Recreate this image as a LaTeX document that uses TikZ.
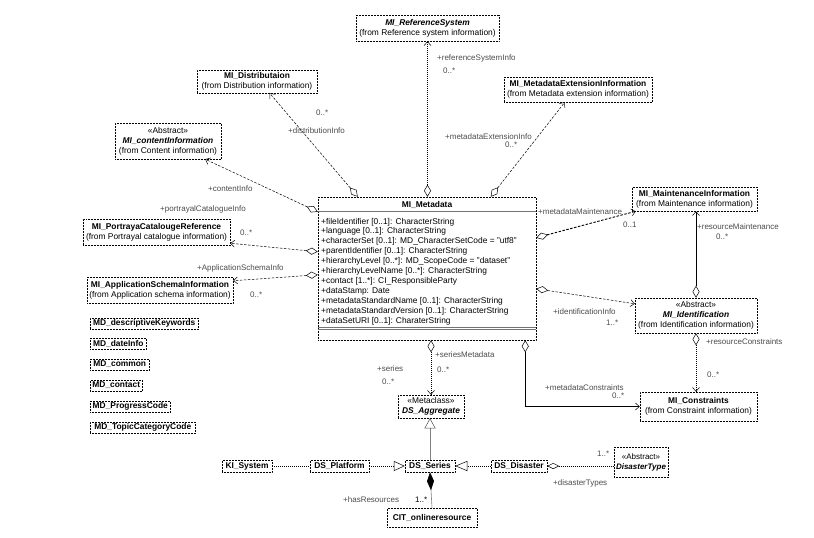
\documentclass[tikz,border=0pt]{standalone}
\usepackage{fontspec}
\setmainfont{Liberation Sans}
\usetikzlibrary{arrows.meta}
\tikzset{
  odia/.tip={Diamond[open,length=12pt,width=7pt,line width=0.5pt]},
  barb/.tip={Straight Barb[length=4pt,width=7pt,line width=0.5pt]},
}
\begin{document}
\begin{tikzpicture}[x=1pt,y=-1pt,
  box/.style={draw=black, densely dotted, line width=0.5pt, fill=white, inner sep=0pt, align=center, font=\fontsize{8.4}{10}\selectfont},
  lbl/.style={font=\fontsize{8}{9}\selectfont, text=black!70, inner sep=0pt, anchor=west},
  attr/.style={font=\fontsize{8.4}{10}\selectfont, inner sep=0pt, anchor=west},
  dotline/.style={line width=0.5pt, dash pattern=on 1pt off 1pt},
  dashline/.style={line width=0.5pt, dash pattern=on 2.5pt off 1.5pt},
  solidline/.style={line width=0.6pt},
]
\path[use as bounding box, fill=white] (0,0) rectangle (814,538);

% classes
\node[box, minimum width=143pt, minimum height=26pt] (ref) at (427.5,28) {\textbf{\textit{MI\_ReferenceSystem}}\\(from Reference system information)};
\node[box, minimum width=120pt, minimum height=23pt] (dist) at (257,81.5) {\textbf{MI\_Distributaion}\\(from Distribution information)};
\node[box, minimum width=148pt, minimum height=25pt] (ext) at (578,89.5) {\textbf{MI\_MetadataExtensionInformation}\\(from Metadata extension information)};
\node[box, minimum width=106pt, minimum height=36pt] (content) at (168,141) {«Abstract»\\\textbf{\textit{MI\_contentInformation}}\\(from Content information)};
\node[box, minimum width=147pt, minimum height=26pt] (portr) at (156.5,232) {\textbf{MI\_PortrayaCatalougeReference}\\(from Portrayal catalogue information)};
\node[box, minimum width=146pt, minimum height=26pt] (appl) at (160,290) {\textbf{MI\_ApplicationSchemaInformation}\\(from Application schema information)};
\node[box, minimum width=218pt, minimum height=143pt] (meta) at (427,268.5) {};
\node[box, minimum width=125pt, minimum height=24pt] (maint) at (694.5,199) {\textbf{MI\_MaintenanceInformation}\\(from Maintenance information)};
\node[box, minimum width=122pt, minimum height=35pt] (ident) at (696,315.5) {«Abstract»\\\textbf{\textit{MI\_Identification}}\\(from Identification information)};
\node[box, minimum width=117pt, minimum height=29pt] (constr) at (698.5,406.5) {\textbf{MI\_Constraints}\\(from Constraint information)};
\node[box, minimum width=66pt, minimum height=23pt] (agg) at (431,406.5) {«Metaclass»\\\textbf{\textit{DS\_Aggregate}}};
\node[box, minimum width=50pt, minimum height=12pt] (ki) at (247,466) {\textbf{KI\_System}};
\node[box, minimum width=59pt, minimum height=12pt] (plat) at (339.5,466) {\textbf{DS\_Platform}};
\node[box, minimum width=50pt, minimum height=12pt] (series) at (430,466) {\textbf{DS\_Series}};
\node[box, minimum width=56pt, minimum height=12pt] (dis) at (519,466) {\textbf{DS\_Disaster}};
\node[box, minimum width=54pt, minimum height=30pt, font=\fontsize{8}{10}\selectfont] (distype) at (641,462) {«Abstract»\\\textbf{\textit{DisasterType}}};
\node[box, minimum width=90pt, minimum height=19pt] (cit) at (432,517.5) {\textbf{CIT\_onlineresource}};

\node[box, anchor=west, minimum width=108pt, minimum height=11pt] (md1) at (90,323.5) {\textbf{MD\_descriptiveKeywords}};
\node[box, anchor=west, minimum width=56pt, minimum height=11pt] (md2) at (90,343.5) {\textbf{MD\_dateInfo}};
\node[box, anchor=west, minimum width=59pt, minimum height=11pt] (md3) at (90,364.5) {\textbf{MD\_common}};
\node[box, anchor=west, minimum width=52pt, minimum height=11pt] (md4) at (90,385.5) {\textbf{MD\_contact}};
\node[box, anchor=west, minimum width=80pt, minimum height=11pt] (md5) at (90,406.5) {\textbf{MD\_ProgressCode}};
\node[box, anchor=west, minimum width=105pt, minimum height=11pt] (md6) at (90,427.5) {\textbf{MD\_TopicCategoryCode}};

% MI_Metadata content
\node[font=\fontsize{8.4}{10}\selectfont\bfseries, inner sep=0pt] (mtitle) at (427,205) {MI\_Metadata};
\draw[black!55, line width=0.8pt] ([yshift=-15pt]meta.north west) -- ([yshift=-15pt]meta.north east);
\draw[black!55, line width=0.5pt] ([yshift=11pt]meta.south west) -- ([yshift=11pt]meta.south east);
\draw[black!55, line width=0.5pt] ([yshift=13pt]meta.south west) -- ([yshift=13pt]meta.south east);
\foreach \t [count=\i] in {{+fileIdentifier [0..1]: CharacterString},
  {+language [0..1]: CharacterString},
  {+characterSet [0..1]: MD\_CharacterSetCode = "utf8"},
  {+parentIdentifier [0..1]: CharacterString},
  {+hierarchyLevel [0..*]: MD\_ScopeCode = "dataset"},
  {+hierarchyLevelName [0..*]: CharacterString},
  {+contact [1..*]: CI\_ResponsibleParty},
  {+dataStamp: Date},
  {+metadataStandardName [0..1]: CharacterString},
  {+metadataStandardVersion [0..1]: CharacterString},
  {+dataSetURI [0..1]: CharaterString}}
  \node[attr] (a\i) at (321,212+9.9*\i) {\t};

% connectors
\draw[dotline, arrows={odia-barb}] (ref.south |- meta.north) -- (ref.south);
\draw[dashline, arrows={odia-barb}] ([xshift=40pt]meta.north west) -- ([xshift=73pt]dist.south west);
\draw[dashline, arrows={odia-barb}] ([xshift=173pt]meta.north west) -- ([xshift=61pt]ext.south west);
\draw[dashline, arrows={odia-barb}] ([yshift=-15pt]meta.north west) -- ([xshift=-16pt]content.south east);
\draw[dashline, arrows={odia-barb}] ([yshift=-55pt]meta.north west) -- ([yshift=2pt]portr.south east);
\draw[dashline, arrows={odia-barb}] ([yshift=-78pt]meta.north west) -- ([yshift=-4pt]appl.north east);
\draw[dashline, line width=0.9pt, arrows={odia-barb}] ([yshift=-41pt]meta.north east) -- ([xshift=4pt]maint.south west);
\draw[dashline, arrows={odia-barb}] ([yshift=-92pt]meta.north east) -- ([yshift=-6pt]ident.north west);
\draw[solidline, arrows={odia-barb}] (ident.north) -- (ident.north |- maint.south);
\draw[dotline, arrows={odia-barb}] (ident.south) -- (ident.south |- constr.north);
\draw[solidline, arrows={odia-barb}] ([xshift=-11pt]meta.south east) |- (constr.west);
\draw[dotline, arrows={odia-barb}] (agg.north |- meta.south) -- (agg.north);
\draw[black!50, line width=0.6pt, -{Triangle[open,length=10pt,width=11pt,line width=0.5pt,black!70]}] (series.north) -- (series.north |- agg.south);
\draw[dotline] (ki.east) -- (plat.west);
\draw[dotline, -{Triangle[open,length=11pt,width=10pt,line width=0.5pt]}] (plat.east) -- (series.west);
\draw[dotline, -{Triangle[open,length=12pt,width=10pt,line width=0.5pt]}] (dis.west) -- (series.east);
\draw[dotline, {Diamond[open,length=12pt,width=6pt,line width=0.5pt]}-] (dis.east) -- (dis.east -| distype.west);
\draw[black!50, line width=0.6pt, {Diamond[length=18pt,width=7pt,black]}-] (series.south) -- (cit.north);

% labels
\node[lbl] (l1) at (437,58) {+referenceSystemInfo};
\node[lbl] (l2) at (443,71) {0..*};
\node[lbl] (l3) at (288,131) {+distributionInfo};
\node[lbl] (l4) at (316,113) {0..*};
\node[lbl] (l5) at (445,137) {+metadataExtensionInfo};
\node[lbl] (l6) at (505,145) {0..*};
\node[lbl] (l7) at (208,189) {+contentInfo};
\node[lbl] (l8) at (160,209) {+portrayalCatalogueInfo};
\node[lbl] (l9) at (240,233) {0..*};
\node[lbl] (l10) at (197,268) {+ApplicationSchemaInfo};
\node[lbl] (l11) at (250,295) {0..*};
\node[lbl] (l12) at (538,212) {+metadataMaintenance};
\node[lbl] (l13) at (623,225) {0..1};
\node[lbl] (l14) at (697,227) {+resourceMaintenance};
\node[lbl] (l15) at (716,237) {0..*};
\node[lbl] (l16) at (553,312) {+identificationInfo};
\node[lbl] (l17) at (606,323) {1..*};
\node[lbl] (l18) at (706,342) {+resourceConstraints};
\node[lbl] (l19) at (707,375) {0..*};
\node[lbl] (l20) at (545,388) {+metadataConstraints};
\node[lbl] (l21) at (612,396) {0..*};
\node[lbl] (l22) at (435,355) {+seriesMetadata};
\node[lbl] (l23) at (437,370) {0..*};
\node[lbl] (l24) at (377,369) {+series};
\node[lbl] (l25) at (382,382) {0..*};
\node[lbl] (l26) at (597,454) {1..*};
\node[lbl] (l27) at (553,483) {+disasterTypes};
\node[lbl] (l28) at (343,500) {+hasResources};
\node[lbl, text=black] (l29) at (415,500) {1..*};
\end{tikzpicture}
\end{document}
